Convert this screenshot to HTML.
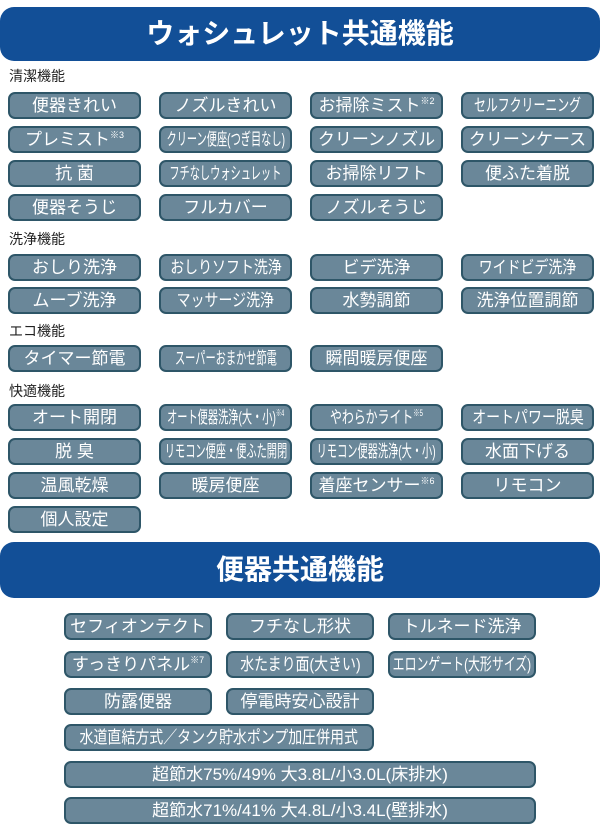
<!DOCTYPE html>
<html><head><meta charset="utf-8"><style>
*{margin:0;padding:0;box-sizing:border-box}
body{width:600px;height:840px;background:#fff;position:relative;overflow:hidden;font-family:"Liberation Sans","Noto Sans CJK JP",sans-serif}
.h{position:absolute;left:0;width:600px;background:#124f97;border-radius:14px;color:#fff;font-weight:bold;text-align:center}
.l{position:absolute;left:9px;font-size:14px;color:#222;line-height:16px}
.b{position:absolute;height:27px;background:#6a8799;border:2px solid #2e5668;border-radius:7px;color:#fff;font-size:17px;line-height:23px;text-align:center;white-space:nowrap;overflow:hidden;display:flex;justify-content:center;align-items:center}
.b span{display:inline-block;flex:none;line-height:23px}
.c span{transform:scaleX(.82)}
.cc span{transform:scaleX(.7)}
.ccc span{transform:scaleX(.6)}
sup{font-size:9px;position:relative;top:-7px;vertical-align:baseline;line-height:0}
</style></head><body>
<div class="h" style="top:7px;height:54px;font-size:28px;line-height:54px">ウォシュレット共通機能</div>
<div class="l" style="top:68px">清潔機能</div>
<div class="b" style="left:8px;top:92px;width:133px"><span>便器きれい</span></div>
<div class="b" style="left:159px;top:92px;width:133px"><span>ノズルきれい</span></div>
<div class="b" style="left:310px;top:92px;width:133px"><span>お掃除ミスト<sup>※2</sup></span></div>
<div class="b cc" style="left:461px;top:92px;width:133px"><span>セルフクリーニング</span></div>
<div class="b" style="left:8px;top:126px;width:133px"><span>プレミスト<sup>※3</sup></span></div>
<div class="b ccc" style="left:159px;top:126px;width:133px"><span>クリーン便座(つぎ目なし)</span></div>
<div class="b" style="left:310px;top:126px;width:133px"><span>クリーンノズル</span></div>
<div class="b" style="left:461px;top:126px;width:133px"><span>クリーンケース</span></div>
<div class="b" style="left:8px;top:160px;width:133px"><span>抗 菌</span></div>
<div class="b ccc" style="left:159px;top:160px;width:133px"><span>フチなしウォシュレット</span></div>
<div class="b" style="left:310px;top:160px;width:133px"><span>お掃除リフト</span></div>
<div class="b" style="left:461px;top:160px;width:133px"><span>便ふた着脱</span></div>
<div class="b" style="left:8px;top:194px;width:133px"><span>便器そうじ</span></div>
<div class="b" style="left:159px;top:194px;width:133px"><span>フルカバー</span></div>
<div class="b" style="left:310px;top:194px;width:133px"><span>ノズルそうじ</span></div>
<div class="l" style="top:231px">洗浄機能</div>
<div class="b" style="left:8px;top:254px;width:133px"><span>おしり洗浄</span></div>
<div class="b c" style="left:159px;top:254px;width:133px"><span>おしりソフト洗浄</span></div>
<div class="b" style="left:310px;top:254px;width:133px"><span>ビデ洗浄</span></div>
<div class="b c" style="left:461px;top:254px;width:133px"><span>ワイドビデ洗浄</span></div>
<div class="b" style="left:8px;top:287px;width:133px"><span>ムーブ洗浄</span></div>
<div class="b c" style="left:159px;top:287px;width:133px"><span>マッサージ洗浄</span></div>
<div class="b" style="left:310px;top:287px;width:133px"><span>水勢調節</span></div>
<div class="b" style="left:461px;top:287px;width:133px"><span>洗浄位置調節</span></div>
<div class="l" style="top:323px">エコ機能</div>
<div class="b" style="left:8px;top:345px;width:133px"><span>タイマー節電</span></div>
<div class="b ccc" style="left:159px;top:345px;width:133px"><span>スーパーおまかせ節電</span></div>
<div class="b" style="left:310px;top:345px;width:133px"><span>瞬間暖房便座</span></div>
<div class="l" style="top:383px">快適機能</div>
<div class="b" style="left:8px;top:404px;width:133px"><span>オート開閉</span></div>
<div class="b ccc" style="left:159px;top:404px;width:133px"><span>オート便器洗浄(大・小)<sup>※4</sup></span></div>
<div class="b cc" style="left:310px;top:404px;width:133px"><span>やわらかライト<sup>※5</sup></span></div>
<div class="b c" style="left:461px;top:404px;width:133px"><span>オートパワー脱臭</span></div>
<div class="b" style="left:8px;top:438px;width:133px"><span>脱 臭</span></div>
<div class="b ccc" style="left:159px;top:438px;width:133px"><span>リモコン便座・便ふた開閉</span></div>
<div class="b ccc" style="left:310px;top:438px;width:133px"><span>リモコン便器洗浄(大・小)</span></div>
<div class="b" style="left:461px;top:438px;width:133px"><span>水面下げる</span></div>
<div class="b" style="left:8px;top:472px;width:133px"><span>温風乾燥</span></div>
<div class="b" style="left:159px;top:472px;width:133px"><span>暖房便座</span></div>
<div class="b" style="left:310px;top:472px;width:133px"><span>着座センサー<sup>※6</sup></span></div>
<div class="b" style="left:461px;top:472px;width:133px"><span>リモコン</span></div>
<div class="b" style="left:8px;top:506px;width:133px"><span>個人設定</span></div>
<div class="h" style="top:542px;height:56px;font-size:28px;line-height:56px">便器共通機能</div>
<div class="b" style="left:64px;top:613px;width:148px"><span>セフィオンテクト</span></div>
<div class="b" style="left:226px;top:613px;width:148px"><span>フチなし形状</span></div>
<div class="b" style="left:388px;top:613px;width:148px"><span>トルネード洗浄</span></div>
<div class="b" style="left:64px;top:651px;width:148px"><span>すっきりパネル<sup>※7</sup></span></div>
<div class="b c" style="left:226px;top:651px;width:148px"><span>水たまり面(大きい)</span></div>
<div class="b cc" style="left:388px;top:651px;width:148px"><span>エロンゲート(大形サイズ)</span></div>
<div class="b" style="left:64px;top:688px;width:148px"><span>防露便器</span></div>
<div class="b" style="left:226px;top:688px;width:148px"><span>停電時安心設計</span></div>
<div class="b c" style="left:64px;top:724px;width:310px"><span>水道直結方式／タンク貯水ポンプ加圧併用式</span></div>
<div class="b" style="left:64px;top:761px;width:472px"><span>超節水75%/49% 大3.8L/小3.0L(床排水)</span></div>
<div class="b" style="left:64px;top:797px;width:472px"><span>超節水71%/41% 大4.8L/小3.4L(壁排水)</span></div>
</body></html>
